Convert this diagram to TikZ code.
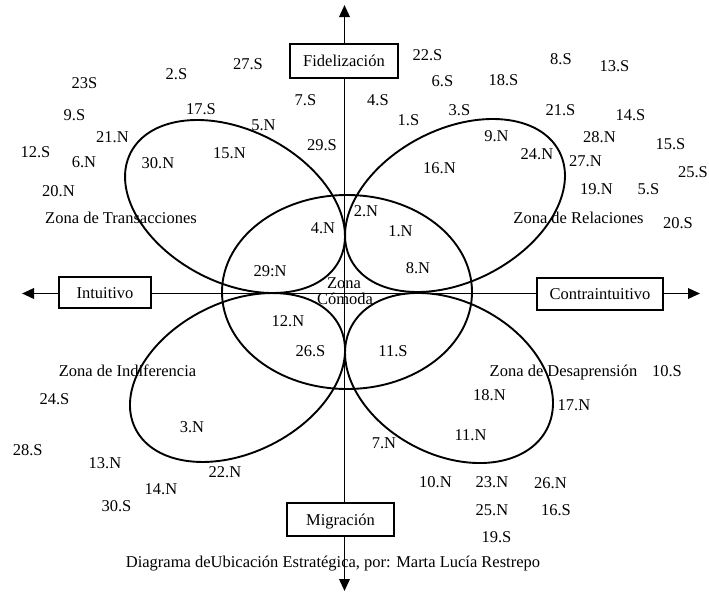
\documentclass[tikz,border=0pt]{standalone}
\usepackage{fontspec}
\setmainfont{Liberation Serif}
\usetikzlibrary{arrows.meta}
\newcommand\mylab[4]{\node[lbl] (#1) at (#2,#3) {#4};}
\begin{document}
\begin{tikzpicture}[x=1pt,y=-1pt,
  lbl/.style={inner sep=0pt, anchor=base, yshift=-5.5pt, font=\fontsize{16.5}{19}\selectfont},
  axbox/.style={draw, line width=1.9pt, fill=white, inner sep=0pt, text height=11pt, text depth=0pt, font=\fontsize{16.5}{19}\selectfont},
  axisline/.style={line width=1.9pt},
  tip/.style={-{Triangle[length=12pt,width=10.5pt]}},
  petal/.style={line width=1.9pt}]
\fill[white] (0,0) rectangle (709,592);
\useasboundingbox (0,0) rectangle (709,592);

% zones (ellipses)
\draw[petal] (347,292) ellipse [x radius=125, y radius=97];
\draw[petal, rotate around={-27.4:(235,206.5)}] (235,206.5) ellipse [x radius=117.4, y radius=76.1];
\draw[petal, rotate around={27.4:(455,205.5)}] (455,205.5) ellipse [x radius=117.4, y radius=76.1];
\draw[petal, rotate around={26.6:(237.5,377.5)}] (237.5,377.5) ellipse [x radius=114.2, y radius=75.2];
\draw[petal, rotate around={-27.8:(449,378)}] (449,378) ellipse [x radius=110.4, y radius=76.5];

% axis boxes
\node[axbox, minimum width=108pt, minimum height=34pt] (fid) at (344,61) {Fidelización};
\node[axbox, minimum width=92pt, minimum height=31pt] (intu) at (105,292.5) {Intuitivo};
\node[axbox, minimum width=126pt, minimum height=32pt] (contra) at (600,294) {Contraintuitivo};
\node[axbox, minimum width=107pt, minimum height=33pt] (mig) at (340.5,519.5) {Migración};

\coordinate (top) at (344.5,5);
\coordinate (bot) at (344.5,591);
\coordinate (lft) at (22,293.5);
\coordinate (rgt) at (700,293.5);
\draw[axisline,tip] (fid.north -| top) -- (top);
\draw[axisline] (fid.south -| top) -- (mig.north -| top);
\draw[axisline,tip] (mig.south -| top) -- (bot);
\draw[axisline,tip] (intu.west |- lft) -- (lft);
\draw[axisline] (intu.east |- lft) -- (contra.west |- lft);
\draw[axisline,tip] (contra.east |- lft) -- (rgt);

% upper left
\mylab{a1}{84.5}{82.5}{23S}
\mylab{a2}{176.5}{74}{2.S}
\mylab{a3}{248}{64}{27.S}
\mylab{a4}{74.5}{115}{9.S}
\mylab{a5}{201}{109}{17.S}
\mylab{a6}{305.5}{100}{7.S}
\mylab{a7}{263.5}{125}{5.N}
\mylab{a8}{112.5}{137}{21.N}
\mylab{a9}{322}{145}{29.S}
\mylab{a10}{35.5}{152}{12.S}
\mylab{a11}{84}{162}{6.N}
\mylab{a12}{158}{163}{30.N}
\mylab{a13}{229.5}{153}{15.N}
\mylab{a14}{58.5}{191}{20.N}
\mylab{ztrans}{121}{218}{Zona de Transacciones}
\mylab{a15}{323}{228}{4.N}
\mylab{a16}{270}{271}{29:N}

% upper right
\mylab{b1}{427.5}{55}{22.S}
\mylab{b2}{561}{59}{8.S}
\mylab{b3}{614.5}{66}{13.S}
\mylab{b4}{442.5}{81}{6.S}
\mylab{b5}{503.5}{80}{18.S}
\mylab{b6}{378}{100}{4.S}
\mylab{b7}{408.5}{120}{1.S}
\mylab{b8}{459.5}{110}{3.S}
\mylab{b9}{560.5}{110}{21.S}
\mylab{b10}{630.5}{115}{14.S}
\mylab{b11}{496.5}{136}{9.N}
\mylab{b12}{599.5}{137}{28.N}
\mylab{b13}{670.5}{144}{15.S}
\mylab{b14}{537}{154}{24.N}
\mylab{b15}{585.5}{161}{27.N}
\mylab{b16}{439.5}{168}{16.N}
\mylab{b17}{693}{172}{25.S}
\mylab{b18}{596.5}{189}{19.N}
\mylab{b19}{648.5}{189}{5.S}
\mylab{b20}{366}{211}{2.N}
\mylab{zrel}{578.5}{218}{Zona de Relaciones}
\mylab{b21}{678}{223}{20.S}
\mylab{b22}{400.5}{231}{1.N}
\mylab{b23}{418}{268}{8.N}

% centre
\mylab{zc1}{344}{283}{Zona}
\mylab{zc2}{345}{299}{Cómoda}
\mylab{c1}{288}{321}{12.N}
\mylab{c2}{310.5}{351}{26.S}
\mylab{c3}{393}{351}{11.S}

% lower left
\mylab{zind}{127.5}{371}{Zona de Indiferencia}
\mylab{d1}{54.5}{399}{24.S}
\mylab{d2}{192}{427}{3.N}
\mylab{d3}{27.7}{449.5}{28.S}
\mylab{d4}{105}{463}{13.N}
\mylab{d5}{225}{471.5}{22.N}
\mylab{d6}{161}{488.5}{14.N}
\mylab{d7}{116.5}{506}{30.S}

% lower right
\mylab{zdes}{563.5}{371}{Zona de Desaprensión}
\mylab{e1}{667}{370.5}{10.S}
\mylab{e2}{489.5}{395}{18.N}
\mylab{e3}{574}{405}{17.N}
\mylab{e4}{470.5}{435}{11.N}
\mylab{e5}{384}{443}{7.N}
\mylab{e6}{435.5}{481.5}{10.N}
\mylab{e7}{492}{481.5}{23.N}
\mylab{e8}{550.5}{482.5}{26.N}
\mylab{e9}{492}{510}{25.N}
\mylab{e10}{556}{510}{16.S}
\mylab{e11}{496.5}{536.5}{19.S}

% caption
\mylab{cap}{333}{561.5}{Diagrama deUbicación Estratégica, por: Marta Lucía Restrepo}
\end{tikzpicture}
\end{document}
